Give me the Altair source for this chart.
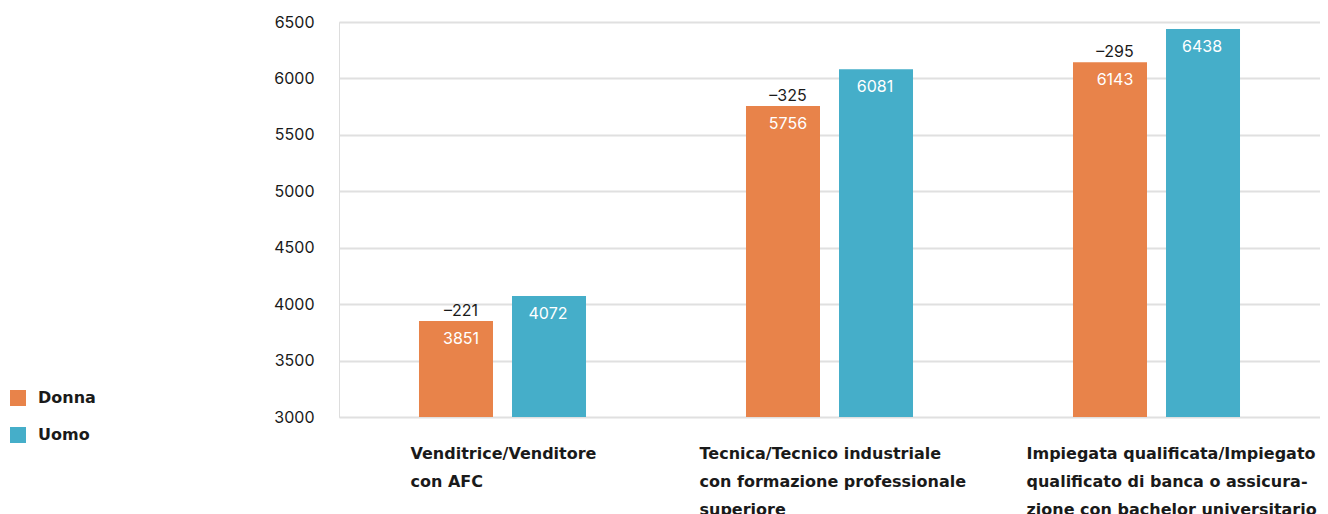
import altair as alt
import pandas as pd

# --- data -------------------------------------------------------------
categories = [
    "Venditrice/Venditore\ncon AFC",
    "Tecnica/Tecnico industriale\ncon formazione professionale\nsuperiore",
    "Impiegata qualificata/Impiegato\nqualificato di banca o assicura-\nzione con bachelor universitario",
]
genders = ["Donna", "Uomo"]
donna = [3851, 5756, 6143]
uomo = [4072, 6081, 6438]
differences = [-221, -325, -295]
y_ticks = [3000, 3500, 4000, 4500, 5000, 5500, 6000, 6500]

rows = []
for c, d, u, diff in zip(categories, donna, uomo, differences):
    rows.append({"category": c, "gender": "Donna", "value": d,
                 "diff_label": "\u2013" + str(abs(diff))})
    rows.append({"category": c, "gender": "Uomo", "value": u, "diff_label": ""})
df = pd.DataFrame(rows)

ORANGE = "#E8834A"
BLUE = "#45AEC9"
FONT = "Inter"
BOLD_FONT = "DejaVu Sans"
TEXT = "#1a1a1a"

x_enc = alt.X(
    "category:N",
    sort=categories,
    title=None,
    scale=alt.Scale(paddingInner=0, paddingOuter=0),
    axis=alt.Axis(
        labelExpr="split(datum.label, '\\n')",
        labelAngle=0,
        labelAlign="left",
        labelBaseline="alphabetic",
        labelOverlap=False,
        labelBound=False,
        labelPadding=41,
        labelLineHeight=28,
        labelFont=BOLD_FONT,
        labelFontSize=16,
        labelFontWeight="bold",
        labelColor=TEXT,
        labelLimit=400,
        labelOffset={
            "condition": {"test": "indexof(datum.value, 'Venditrice') === 0", "value": -92},
            "value": -130,
        },
        domain=False,
        ticks=False,
        grid=False,
    ),
)
xoff_enc = alt.XOffset(
    "gender:N",
    sort=genders,
    scale=alt.Scale(paddingInner=0.2043, paddingOuter=0.86),
)
y_scale = alt.Scale(domain=[y_ticks[0], y_ticks[-1]], zero=False, nice=False)

base = alt.Chart(df).encode(x=x_enc, xOffset=xoff_enc)

bars = base.mark_bar().encode(
    y=alt.Y(
        "value:Q",
        scale=y_scale,
        title=None,
        axis=alt.Axis(
            values=y_ticks,
            format="d",
            domain=False,
            ticks=False,
            grid=True,
            gridColor="#e0e0e0",
            gridWidth=2,
            labelPadding=25,
            labelFont=FONT,
            labelFontSize=16,
            labelColor=TEXT,
        ),
    ),
    y2=alt.datum(y_ticks[0]),
    color=alt.Color(
        "gender:N",
        scale=alt.Scale(domain=genders, range=[ORANGE, BLUE]),
        legend=alt.Legend(
            title=None,
            orient="none",
            legendX=-329,
            legendY=368,
            padding=0,
            symbolType="square",
            symbolSize=256,
            symbolStrokeWidth=0,
            symbolOpacity=1,
            labelFont=BOLD_FONT,
            labelFontSize=16,
            labelFontWeight="bold",
            labelColor=TEXT,
            labelOffset=12,
            rowPadding=21,
        ),
    ),
)

val_donna = base.transform_filter(alt.datum.gender == "Donna").mark_text(
    color="white", baseline="alphabetic", dy=23, dx=5, font=FONT, fontSize=16
).encode(y=alt.Y("value:Q", scale=y_scale), text="value:Q")

val_uomo = base.transform_filter(alt.datum.gender == "Uomo").mark_text(
    color="white", baseline="alphabetic", dy=23, dx=-1, font=FONT, fontSize=16
).encode(y=alt.Y("value:Q", scale=y_scale), text="value:Q")

diff_txt = base.transform_filter(alt.datum.gender == "Donna").mark_text(
    color=TEXT, baseline="alphabetic", dy=-5, dx=5, font=FONT, fontSize=16
).encode(y=alt.Y("value:Q", scale=y_scale), text="diff_label:N")

chart = (
    alt.layer(bars, val_donna, val_uomo, diff_txt)
    .properties(
        width=981,
        height=395,
        autosize=alt.AutoSizeParams(type="none"),
        padding={"left": 331, "top": 14, "right": 0, "bottom": 97},
    )
    .configure_view(stroke=None)
    .configure(background="white")
)

chart.save("out.html", embed_options={"renderer": "svg", "actions": False})
